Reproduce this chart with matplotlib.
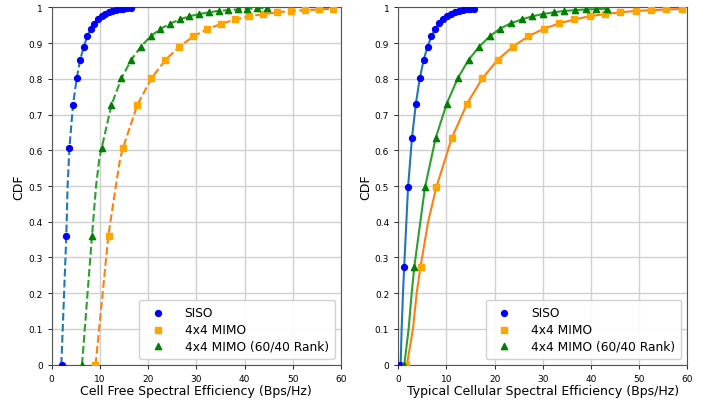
import matplotlib
matplotlib.use("Agg")
import matplotlib.pyplot as plt
from matplotlib.ticker import FormatStrFormatter

# CDF levels where the markers sit (same levels for every series in a panel)
cdf_left = [0, 0.361, 0.607, 0.727, 0.801, 0.853, 0.890, 0.919, 0.939, 0.954,
            0.966, 0.975, 0.981, 0.986, 0.990, 0.992, 0.994, 0.996, 0.997, 0.998]
cdf_right = [0, 0.273, 0.496, 0.634, 0.730, 0.801, 0.853, 0.890, 0.919, 0.940,
             0.955, 0.966, 0.975, 0.981, 0.986, 0.990, 0.992, 0.994, 0.995, 0.996]

# cell free (left) marker positions, Bps/Hz
cf_siso = [2.2, 2.97, 3.68, 4.42, 5.19, 5.9, 6.66, 7.38, 8.12, 8.85,
           9.6, 10.35, 11.1, 11.85, 12.6, 13.35, 14.1, 14.85, 15.6, 16.35]
cf_mimo = [9.0, 11.95, 14.8, 17.76, 20.67, 23.6, 26.5, 29.4, 32.3, 35.2,
           38.1, 41.0, 43.9, 46.8, 49.7, 52.6, 55.5, 58.4]
cf_rank = [6.3, 8.3, 10.37, 12.4, 14.45, 16.5, 18.5, 20.5, 22.5, 24.5,
           26.55, 28.55, 30.6, 32.6, 34.6, 36.6, 38.6, 40.6, 42.6, 44.6]

# typical cellular (right) marker positions, Bps/Hz
tc_siso = [0.4, 1.22, 2.03, 2.84, 3.65, 4.46, 5.27, 6.08, 6.89, 7.7,
           8.51, 9.32, 10.13, 10.94, 11.75, 12.56, 13.37, 14.18, 14.99, 15.8]
tc_mimo = [1.6, 4.71, 7.89, 11.1, 14.26, 17.44, 20.63, 23.8, 27.0, 30.2,
           33.4, 36.5, 39.7, 42.9, 46.1, 49.3, 52.5, 55.6, 58.8]
tc_rank = [1.1, 3.32, 5.54, 7.76, 10.05, 12.33, 14.6, 16.8, 19.0, 21.1,
           23.3, 25.6, 27.8, 30.0, 32.3, 34.5, 36.7, 38.9, 41.1, 43.3]

# curve points (lower part), rest follows the markers
cf_siso_line = ([2.0, 3.03, 3.3], [0, 0.361, 0.5])
cf_mimo_line = ([9.1, 11.75, 13.3, 14.2], [0, 0.361, 0.5, 0.577])
cf_rank_line = ([6.29, 8.36, 9.2, 9.88], [0, 0.361, 0.5, 0.577])
tc_siso_line = ([0.5, 0.7, 0.98, 1.22], [0, 0.1, 0.2, 0.273])
tc_mimo_line = ([1.8, 3.05, 3.82, 4.6, 6.2], [0, 0.1, 0.2, 0.273, 0.4])
tc_rank_line = ([1.25, 2.15, 2.78, 3.32], [0, 0.1, 0.2, 0.273])

labels = ['SISO', '4x4 MIMO', '4x4 MIMO (60/40 Rank)']
mk_colors = ['blue', 'orange', 'green']
ln_colors = ['tab:blue', 'tab:orange', 'tab:green']
markers = ['o', 's', '^']
sizes = [18, 16, 20]

fig = plt.figure(figsize=(7.14, 4.02), dpi=100)
ax1 = fig.add_axes([0.0724, 0.0903, 0.4052, 0.8890])
ax2 = fig.add_axes([0.5578, 0.0903, 0.4048, 0.8890])


def panel(ax, xs, cdf, lines, ls, xlabel):
    for i in range(3):
        lx, ly = lines[i]
        n = len(xs[i])
        # line: measured foot of the curve, then the marker points above it
        keep = [k for k in range(n) if cdf[k] > ly[-1]]
        line_x = list(lx) + [xs[i][k] for k in keep]
        line_y = list(ly) + [cdf[k] for k in keep]
        ax.plot(line_x, line_y, ls, color=ln_colors[i], lw=1.5, zorder=2)
    for i in range(3):
        ax.scatter(xs[i], cdf[:len(xs[i])], marker=markers[i], color=mk_colors[i],
                   s=sizes[i], label=labels[i], zorder=3)
    ax.set_xlim(0, 60)
    ax.set_ylim(0, 1)
    ax.set_xticks(range(0, 61, 10))
    ax.set_yticks([i / 10 for i in range(11)])
    ax.yaxis.set_major_formatter(FormatStrFormatter('%g'))
    ax.tick_params(labelsize=6.5, length=3, width=0.6)
    ax.grid(color='#d0d0d0', lw=1)
    ax.set_axisbelow(True)
    for s in ax.spines.values():
        s.set_color('#555555')
        s.set_linewidth(0.8)
    ax.set_xlabel(xlabel, fontsize=9, labelpad=1)
    ax.set_ylabel('CDF', fontsize=9, labelpad=2)
    ax.legend(loc='lower right', fontsize=8.8, handletextpad=1.2, borderpad=0.5,
              labelspacing=0.3, framealpha=0.9)


panel(ax1, [cf_siso, cf_mimo, cf_rank], cdf_left,
      [cf_siso_line, cf_mimo_line, cf_rank_line], '--',
      'Cell Free Spectral Efficiency (Bps/Hz)')
panel(ax2, [tc_siso, tc_mimo, tc_rank], cdf_right,
      [tc_siso_line, tc_mimo_line, tc_rank_line], '-',
      'Typical Cellular Spectral Efficiency (Bps/Hz)')

fig.savefig('out.png', dpi=100)
